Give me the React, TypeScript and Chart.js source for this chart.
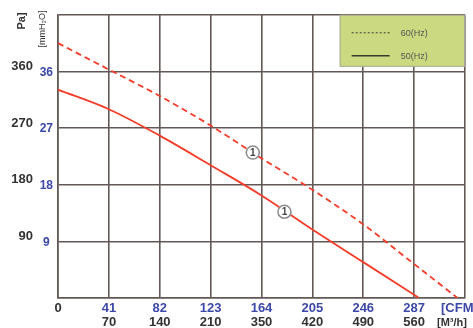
import React, { useEffect, useRef } from 'react';
import { Chart, registerables } from 'chart.js';
Chart.register(...registerables);

// Axis ticks / labels
const cfmTicks = [0, 41, 82, 123, 164, 205, 246, 287, 328];
const cfmLabels = ['0', '41', '82', '123', '164', '205', '246', '287', ''];
const m3hLabels = ['', '70', '140', '210', '350', '420', '490', '560', ''];
const mmTicks = [0, 9, 18, 27, 36, 45];
const mmLabels = ['', '9', '18', '27', '36', ''];
const paTicks = [0, 90, 180, 270, 360, 450];
const paLabels = ['', '90', '180', '270', '360', ''];

// Series (flow in CFM, pressure in mmH2O)
const flow60 = [0, 41, 82, 123, 164, 205, 246, 287, 322];
const pres60 = [40.5, 36.3, 32.1, 27.4, 22.2, 17.2, 11.7, 5.4, 0];
const flow50 = [0, 41, 82, 123, 164, 205, 246, 291];
const pres50 = [33.1, 30.0, 25.8, 21.1, 16.3, 10.9, 5.7, 0];

// Circled markers on the curves
const markerFlow = [157, 182.5];
const markerPres = [23.1, 13.7];
const markerText = ['1', '1'];

const seriesNames = ['60(Hz)', '50(Hz)'];

const RED = 'rgb(245,60,40)';
const BLUE = '#3c48a8';
const DARK = '#333333';
const GRID = '#625856';
const FONT = '"Liberation Sans", Arial, sans-serif';

const overlay = {
  id: 'overlay',
  afterDraw(chart: any) {
    const { ctx, chartArea, scales } = chart;
    const x = scales.x;
    const y = scales.y;
    ctx.save();
    // legend box
    const lx = x.getPixelForValue(227);
    const ly = chartArea.top;
    const lw = chartArea.right - lx;
    const lh = 52;
    ctx.fillStyle = 'rgb(203,218,128)';
    ctx.fillRect(lx, ly, lw, lh);
    ctx.strokeStyle = '#a8a898';
    ctx.lineWidth = 1;
    ctx.strokeRect(lx + 0.5, ly + 0.5, lw - 1, lh - 1);
    const rows = [ly + 18, ly + 41];
    chart.data.datasets.forEach((ds: any, i: number) => {
      if (i > 1) return;
      ctx.beginPath();
      ctx.strokeStyle = '#3a3a2a';
      ctx.lineWidth = i === 0 ? 1 : 1.5;
      ctx.setLineDash(i === 0 ? [2, 2] : []);
      ctx.moveTo(lx + 12, rows[i]);
      ctx.lineTo(lx + 50, rows[i]);
      ctx.stroke();
      ctx.setLineDash([]);
      ctx.fillStyle = '#555';
      ctx.font = `9px ${FONT}`;
      ctx.textAlign = 'left';
      ctx.textBaseline = 'middle';
      ctx.fillText(seriesNames[i], lx + 61, rows[i] + 1);
    });
    // markers
    markerFlow.forEach((f, i) => {
      const px = x.getPixelForValue(f);
      const py = y.getPixelForValue(markerPres[i]);
      ctx.beginPath();
      ctx.arc(px, py, 6.5, 0, Math.PI * 2);
      ctx.fillStyle = '#ffffff';
      ctx.fill();
      ctx.strokeStyle = '#8a8a8a';
      ctx.lineWidth = 1.5;
      ctx.stroke();
      ctx.fillStyle = '#444';
      ctx.font = `bold 10px ${FONT}`;
      ctx.textAlign = 'center';
      ctx.textBaseline = 'middle';
      ctx.fillText(markerText[i], px, py + 0.5);
    });
    // unit labels
    ctx.textBaseline = 'middle';
    ctx.textAlign = 'left';
    ctx.fillStyle = BLUE;
    ctx.font = `bold 13px ${FONT}`;
    ctx.fillText('[CFM', chartArea.right - 24, chartArea.bottom + 10);
    ctx.fillStyle = DARK;
    ctx.font = `bold 11px ${FONT}`;
    ctx.fillText('[M\u00B3/h]', chartArea.right - 28, chartArea.bottom + 25);
    // y titles
    ctx.save();
    ctx.translate(22, 21);
    ctx.rotate(-Math.PI / 2);
    ctx.textAlign = 'center';
    ctx.fillStyle = DARK;
    ctx.font = `bold 11px ${FONT}`;
    ctx.fillText('Pa]', 0, 0);
    ctx.restore();
    ctx.save();
    ctx.translate(43, 29);
    ctx.rotate(-Math.PI / 2);
    ctx.textAlign = 'center';
    ctx.fillStyle = DARK;
    ctx.font = `9px ${FONT}`;
    ctx.fillText('[mmH\u2082O]', 0, 0);
    ctx.restore();
    ctx.restore();
  },
};

export default function App() {
  const ref = useRef<HTMLCanvasElement>(null);
  useEffect(() => {
    if (!ref.current) return;
    const chart = new Chart(ref.current, {
      type: 'line',
      data: {
        datasets: [
          {
            label: seriesNames[0],
            data: flow60.map((f, i) => ({ x: f, y: pres60[i] })),
            borderColor: RED,
            borderWidth: 1.8,
            borderDash: [6, 4],
            pointRadius: 0,
            cubicInterpolationMode: 'monotone',
            fill: false,
          },
          {
            label: seriesNames[1],
            data: flow50.map((f, i) => ({ x: f, y: pres50[i] })),
            borderColor: RED,
            borderWidth: 1.8,
            pointRadius: 0,
            cubicInterpolationMode: 'monotone',
            fill: false,
          },
        ],
      },
      options: {
        responsive: false,
        animation: false,
        layout: { padding: { top: 10, right: 8, left: 0, bottom: 0 } },
        plugins: { legend: { display: false }, tooltip: { enabled: false } },
        scales: {
          x: {
            type: 'linear',
            position: 'bottom',
            weight: 0,
            min: 0,
            max: 328,
            afterBuildTicks: (s: any) => { s.ticks = cfmTicks.map((v) => ({ value: v })); },
            afterFit: (s: any) => { s.height = 16; },
            grid: { color: GRID, lineWidth: 1.6, drawTicks: false },
            border: { color: GRID, width: 1.6 },
            ticks: {
              padding: 3,
              maxRotation: 0,
              autoSkip: false,
              font: { family: FONT, size: 13, weight: 'bold' },
              color: (c: any) => (c.index === 0 ? DARK : BLUE),
              callback: (_v: any, i: number) => cfmLabels[i],
            },
          },
          x2: {
            type: 'linear',
            position: 'bottom',
            weight: 1,
            min: 0,
            max: 328,
            afterBuildTicks: (s: any) => { s.ticks = cfmTicks.map((v) => ({ value: v })); },
            afterFit: (s: any) => { s.height = 14; },
            grid: { display: false, drawTicks: false },
            border: { display: false },
            ticks: {
              padding: 1,
              maxRotation: 0,
              autoSkip: false,
              font: { family: FONT, size: 13, weight: 'bold' },
              color: DARK,
              callback: (_v: any, i: number) => m3hLabels[i],
            },
          },
          y: {
            type: 'linear',
            position: 'left',
            weight: 0,
            min: 0,
            max: 45,
            afterBuildTicks: (s: any) => { s.ticks = mmTicks.map((v) => ({ value: v })); },
            afterFit: (s: any) => { s.width = 18; },
            grid: { color: GRID, lineWidth: 1.6, drawTicks: false },
            border: { color: GRID, width: 1.6 },
            ticks: {
              padding: 5,
              crossAlign: 'center',
              labelOffset: 1,
              autoSkip: false,
              font: { family: FONT, size: 12, weight: 'bold' },
              color: BLUE,
              callback: (_v: any, i: number) => mmLabels[i],
            },
          },
          yPa: {
            type: 'linear',
            position: 'left',
            weight: 1,
            min: 0,
            max: 450,
            afterBuildTicks: (s: any) => { s.ticks = paTicks.map((v) => ({ value: v })); },
            afterFit: (s: any) => { s.width = 40; },
            grid: { display: false, drawTicks: false },
            border: { display: false },
            ticks: {
              padding: 7,
              labelOffset: -5,
              autoSkip: false,
              font: { family: FONT, size: 13, weight: 'bold' },
              color: DARK,
              callback: (_v: any, i: number) => paLabels[i],
            },
          },
        },
      } as any,
      plugins: [overlay],
    });
    return () => chart.destroy();
  }, []);
  return (
    <div style={{ position: 'absolute', left: 0, top: 0, width: 473, height: 328, background: '#fff' }}>
      <canvas ref={ref} width={473} height={328} />
    </div>
  );
}
